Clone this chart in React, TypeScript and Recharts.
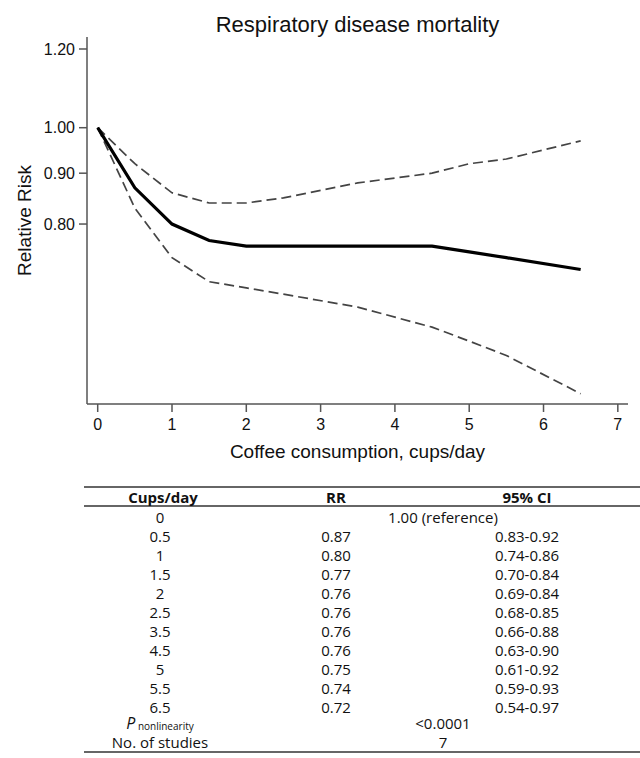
import { LineChart, Line, XAxis, YAxis, Label } from "recharts";

const cups = [0, 0.5, 1, 1.5, 2, 2.5, 3.5, 4.5, 5, 5.5, 6.5];
const rr = [1.0, 0.87, 0.8, 0.77, 0.76, 0.76, 0.76, 0.76, 0.75, 0.74, 0.72];
const ciLow = [1.0, 0.83, 0.74, 0.7, 0.69, 0.68, 0.66, 0.63, 0.61, 0.59, 0.54];
const ciHigh = [1.0, 0.92, 0.86, 0.84, 0.84, 0.85, 0.88, 0.9, 0.92, 0.93, 0.97];

const xTicks = [0, 1, 2, 3, 4, 5, 6, 7];
const yTicks = [0.8, 0.9, 1.0, 1.2];

const pNonlinearity = "<0.0001";
const nStudies = "7";

const data = cups.map((c, i) => ({ x: c, rr: rr[i], lo: ciLow[i], hi: ciHigh[i] }));

const chartFont = "'Liberation Sans', Arial, sans-serif";
const tableFont = "'Open Sans', 'Noto Sans', sans-serif";

const col1 = 160;
const col2 = 336;
const col3 = 527;
const colMerged = 443;
const firstRow = 523;
const rowStep = 19;

export default function App() {
  return (
    <div style={{ position: "absolute", left: 0, top: 0, width: 640, height: 758, background: "#fff" }}>
      <LineChart width={640} height={470} data={data} margin={{ top: 37, right: 12, bottom: 12, left: 27 }}>
        <XAxis
          dataKey="x"
          type="number"
          domain={[-0.144, 7.137]}
          ticks={xTicks}
          allowDataOverflow
          height={54}
          tickSize={8}
          tickMargin={7}
          stroke="#555"
          strokeWidth={1.5}
          fontSize={16}
          fontFamily={chartFont}
          tick={{ fill: "#111", fontSize: 16, fontFamily: chartFont }}
        >
          <Label
            value="Coffee consumption, cups/day"
            position="insideBottom"
            offset={0}
            style={{ fill: "#111", fontSize: 19, fontFamily: chartFont }}
          />
        </XAxis>
        <YAxis
          scale="log"
          domain={[0.5273, 1.2338]}
          ticks={yTicks}
          allowDataOverflow
          width={60}
          tickSize={8}
          tickMargin={4}
          stroke="#555"
          strokeWidth={1.5}
          fontSize={16}
          fontFamily={chartFont}
          tickFormatter={(v: number) => v.toFixed(2)}
          tick={{ fill: "#111", fontSize: 16, fontFamily: chartFont }}
        >
          <Label
            content={() => (
              <text
                x={31}
                y={220.5}
                transform="rotate(-90 31 220.5)"
                textAnchor="middle"
                fill="#111"
                fontSize={19}
                fontFamily={chartFont}
              >
                Relative Risk
              </text>
            )}
          />
        </YAxis>
        <Line
          dataKey="hi"
          type="linear"
          stroke="#444"
          strokeWidth={1.7}
          strokeDasharray="10 5"
          dot={false}
          isAnimationActive={false}
        />
        <Line
          dataKey="lo"
          type="linear"
          stroke="#444"
          strokeWidth={1.7}
          strokeDasharray="10 5"
          dot={false}
          isAnimationActive={false}
        />
        <Line
          dataKey="rr"
          type="linear"
          stroke="#000"
          strokeWidth={3.2}
          dot={false}
          isAnimationActive={false}
        />
      </LineChart>

      <svg
        width={640}
        height={758}
        style={{ position: "absolute", left: 0, top: 0, pointerEvents: "none" }}
      >
        <text x={357.5} y={32} textAnchor="middle" fontSize={22} fontFamily={chartFont} fill="#111">
          Respiratory disease mortality
        </text>

        {/* table */}
        <g fontFamily={tableFont} fontSize={15} fill="#111" textAnchor="middle">
          <line x1={84} x2={640} y1={487} y2={487} stroke="#333" strokeWidth={1.5} />
          <line x1={84} x2={640} y1={506} y2={506} stroke="#333" strokeWidth={1.5} />
          <line x1={84} x2={640} y1={752} y2={752} stroke="#333" strokeWidth={1.5} />
          <g fontWeight="bold">
            <text x={col1 + 3} y={503}>Cups/day</text>
            <text x={col2} y={503}>RR</text>
            <text x={col3} y={503}>95% CI</text>
          </g>
          {cups.map((c, i) => {
            const y = firstRow + i * rowStep;
            if (i === 0) {
              return (
                <g key={c}>
                  <text x={col1} y={y}>{c}</text>
                  <text x={colMerged} y={y}>{`${rr[i].toFixed(2)} (reference)`}</text>
                </g>
              );
            }
            return (
              <g key={c}>
                <text x={col1} y={y}>{c}</text>
                <text x={col2} y={y}>{rr[i].toFixed(2)}</text>
                <text x={col3} y={y}>{`${ciLow[i].toFixed(2)}-${ciHigh[i].toFixed(2)}`}</text>
              </g>
            );
          })}
          <text x={col1} y={729}>
            <tspan fontStyle="italic" fontSize={16}>P</tspan>
            <tspan fontSize={10} dy={1}> nonlinearity</tspan>
          </text>
          <text x={colMerged} y={729}>{pNonlinearity}</text>
          <text x={col1} y={748}>No. of studies</text>
          <text x={colMerged} y={748}>{nStudies}</text>
        </g>
      </svg>
    </div>
  );
}
